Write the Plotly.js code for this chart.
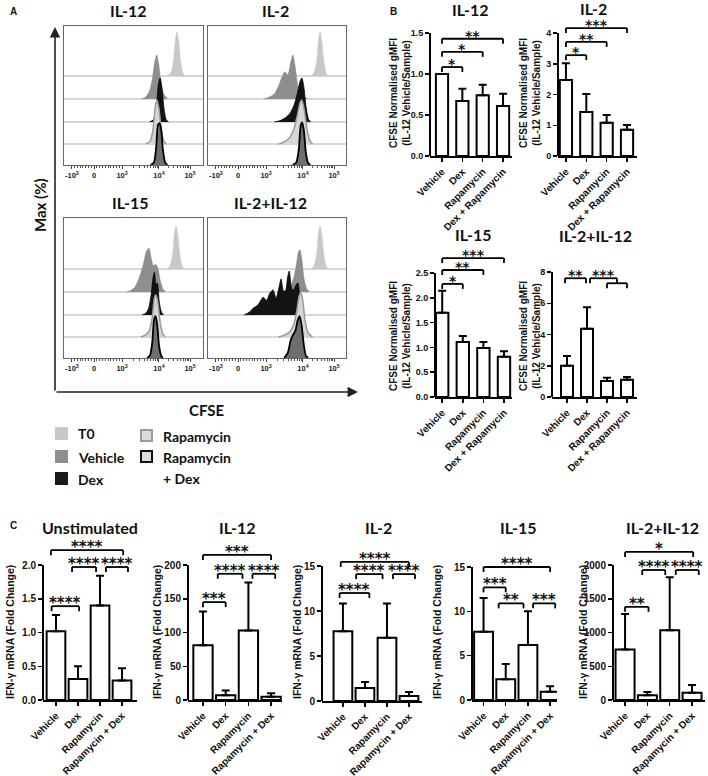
<!DOCTYPE html>
<html><head><meta charset="utf-8">
<script src="https://cdn.plot.ly/plotly-3.0.1.min.js"></script>
<style>body{margin:0;background:#fff}#chart{width:708px;height:776px}</style>
</head><body><div id="chart"></div>
<script>
// ================= DATA =================
// Panel A: CFSE offset histograms. Points are [CFSE display position (logicle decades), normalised count]
const cfseTickVals = [-0.79, 0, 1, 2.32, 3.43];
const cfseTickText = ['-10<sup>3</sup>', '0', '10<sup>3</sup>', '10<sup>4</sup>', '10<sup>5</sup>'];
const histPanels = ['IL-12', 'IL-2', 'IL-15', 'IL-2+IL-12'];
const histConditions = ['T0', 'Vehicle', 'Dex', 'Rapamycin', 'Rapamycin + Dex'];

const il12_T0 = [[2.62,0],[2.75,0.08],[2.84,0.35],[2.9,0.78],[2.96,1],[3.02,0.8],[3.09,0.35],[3.17,0.08],[3.25,0]];
const il12_Veh = [[1.7,0],[1.85,0.05],[1.98,0.18],[2.08,0.45],[2.17,0.85],[2.24,1],[2.31,0.8],[2.4,0.35],[2.5,0.1],[2.62,0]];
const il12_Dex = [[1.98,0],[2.12,0.05],[2.22,0.3],[2.3,0.85],[2.36,1],[2.42,0.8],[2.5,0.3],[2.58,0.05],[2.66,0]];
const il12_Rapa = [[1.85,0],[2.0,0.06],[2.1,0.3],[2.19,0.85],[2.25,1],[2.32,0.8],[2.4,0.35],[2.5,0.06],[2.58,0]];
const il12_RapaDex = [[2.02,0],[2.14,0.06],[2.22,0.4],[2.28,0.9],[2.33,0.95],[2.39,0.85],[2.46,0.35],[2.54,0.06],[2.62,0]];

const il2_T0 = [[2.6,0],[2.72,0.08],[2.81,0.35],[2.87,0.78],[2.93,1],[2.99,0.8],[3.06,0.35],[3.14,0.08],[3.22,0]];
const il2_Veh = [[0.9,0],[1.1,0.04],[1.3,0.12],[1.45,0.3],[1.57,0.5],[1.67,0.62],[1.78,0.55],[1.87,0.8],[1.96,1],[2.05,0.7],[2.14,0.3],[2.26,0.1],[2.4,0.03],[2.5,0]];
const il2_Dex = [[1.3,0],[1.5,0.03],[1.7,0.1],[1.86,0.2],[2.0,0.38],[2.12,0.65],[2.22,0.93],[2.28,1],[2.35,0.8],[2.43,0.35],[2.52,0.06],[2.6,0]];
const il2_Rapa = [[1.45,0],[1.65,0.05],[1.85,0.15],[2.0,0.35],[2.12,0.65],[2.22,0.95],[2.28,1],[2.36,0.8],[2.45,0.4],[2.55,0.1],[2.66,0]];
const il2_RapaDex = [[1.95,0],[2.08,0.06],[2.17,0.35],[2.24,0.9],[2.29,0.97],[2.35,0.8],[2.42,0.3],[2.5,0.05],[2.58,0]];

const il15_T0 = [[2.6,0],[2.72,0.08],[2.81,0.35],[2.87,0.78],[2.93,0.98],[2.99,0.8],[3.06,0.35],[3.14,0.08],[3.22,0]];
const il15_Veh = [[1.15,0],[1.3,0.03],[1.45,0.1],[1.6,0.3],[1.75,0.6],[1.87,0.92],[1.96,1],[2.05,0.75],[2.12,0.6],[2.2,0.63],[2.28,0.55],[2.37,0.25],[2.47,0.06],[2.56,0]];
const il15_Dex = [[1.72,0],[1.85,0.04],[1.95,0.15],[2.04,0.45],[2.11,0.85],[2.16,0.97],[2.21,0.7],[2.26,0.72],[2.33,0.3],[2.41,0.06],[2.48,0]];
const il15_Rapa = [[1.68,0],[1.85,0.05],[1.98,0.15],[2.08,0.45],[2.16,0.9],[2.21,0.96],[2.28,0.8],[2.36,0.35],[2.45,0.08],[2.55,0]];
const il15_RapaDex = [[1.9,0],[2.0,0.06],[2.08,0.35],[2.14,0.85],[2.19,0.95],[2.25,0.8],[2.32,0.3],[2.4,0.05],[2.46,0]];

const il2il12_T0 = [[2.6,0],[2.72,0.08],[2.81,0.35],[2.87,0.78],[2.93,0.98],[2.99,0.8],[3.06,0.35],[3.14,0.08],[3.22,0]];
const il2il12_Veh = [[1.7,0],[1.85,0.1],[1.98,0.3],[2.08,0.6],[2.15,0.9],[2.21,0.96],[2.28,0.75],[2.36,0.3],[2.45,0.08],[2.55,0]];
const il2il12_Dex = [[0.22,0],[0.4,0.06],[0.55,0.16],[0.7,0.22],[0.9,0.4],[1.02,0.33],[1.14,0.5],[1.25,0.57],[1.36,0.38],[1.47,0.65],[1.54,0.82],[1.62,0.55],[1.7,0.55],[1.77,0.85],[1.83,1],[1.9,0.65],[1.97,0.55],[2.07,0.68],[2.14,0.73],[2.2,0.45],[2.26,0.12],[2.32,0]];
const il2il12_Rapa = [[1.45,0],[1.65,0.04],[1.85,0.12],[2.0,0.3],[2.1,0.6],[2.19,0.95],[2.25,1],[2.32,0.8],[2.4,0.35],[2.52,0.08],[2.66,0]];
const il2il12_RapaDex = [[1.65,0],[1.78,0.12],[1.88,0.4],[1.96,0.52],[2.05,0.62],[2.13,0.85],[2.2,0.95],[2.27,0.75],[2.35,0.3],[2.42,0.06],[2.5,0]];

// Panel B: CFSE normalised gMFI (mean, upper SEM)
const catsB = ['Vehicle', 'Dex', 'Rapamycin', 'Dex + Rapamycin'];
const bIL12_mean = [1.00, 0.67, 0.74, 0.61];
const bIL12_err  = [0, 0.15, 0.13, 0.15];
const bIL2_mean  = [2.47, 1.43, 1.08, 0.85];
const bIL2_err   = [0.55, 0.59, 0.25, 0.16];
const bIL15_mean = [1.70, 1.11, 0.99, 0.81];
const bIL15_err  = [0.44, 0.12, 0.12, 0.11];
const bIL2IL12_mean = [2.00, 4.36, 1.03, 1.10];
const bIL2IL12_err  = [0.62, 1.39, 0.20, 0.18];
// significance brackets: [from category, to category, level, label]
const sigB_IL12 = [[0,1,1.085,'*'],[0,2,1.27,'*'],[0,3,1.43,'**']];
const sigB_IL2 = [[0,1,3.28,'*'],[0,2,3.71,'**'],[0,3,4.16,'***']];
const sigB_IL15 = [[0,1,2.28,'*'],[0,2,2.56,'**'],[0,3,2.8,'***']];
const sigB_IL2IL12 = [[-0.1,0.95,7.6,'**'],[1.15,2.5,7.6,'***'],[2,3,7.28,'']];

// Panel C: IFN-γ mRNA fold change (mean, upper error)
const catsC = ['Vehicle', 'Dex', 'Rapamycin', 'Rapamycin + Dex'];
const cUnstim_mean = [1.02, 0.31, 1.40, 0.29];
const cUnstim_err  = [0.24, 0.19, 0.44, 0.18];
const cIL12_mean = [81, 7, 103, 5];
const cIL12_err  = [50, 7, 71, 5];
const cIL2_mean = [7.76, 1.45, 7.02, 0.56];
const cIL2_err  = [3.08, 0.67, 3.82, 0.44];
const cIL15_mean = [7.7, 2.33, 6.19, 0.93];
const cIL15_err  = [3.8, 1.74, 3.81, 0.63];
const cIL2IL12_mean = [747, 69, 1032, 108];
const cIL2IL12_err  = [526, 49, 786, 113];
const sigC_Unstim = [[-0.2,1.05,1.39,'****'],[0.73,1.82,1.97,'****'],[2.27,3.27,1.97,'****'],[-0.23,3.05,2.22,'****']];
const sigC_IL12 = [[0,1,145,'***'],[0.65,1.74,187,'****'],[2.18,3.18,187,'****'],[0,3,215,'***']];
const sigC_IL2 = [[-0.15,1.2,12.0,'****'],[0.6,1.8,14.1,'****'],[2.27,3.27,14.1,'****'],[-0.1,3,15.45,'****']];
const sigC_IL15 = [[0,1,12.7,'***'],[0.68,1.8,10.9,'**'],[2.23,3.23,10.9,'***'],[0,3,15.0,'****']];
const sigC_IL2IL12 = [[0,1.05,1380,'**'],[0.77,1.8,1926,'****'],[2.27,3.3,1926,'****'],[0,3.05,2193,'*']];

// ================= LAYOUT / DRAWING =================
const W = 708, H = 776;
const fx = p => p / W;
const fy = p => 1 - p / H;
const AXFONT = 'Liberation Sans, Arial, sans-serif';
const TFONT = 'Lato, "Open Sans", sans-serif';
const SFONT = '"DejaVu Sans", sans-serif';
const bf = (size, family, color) => ({size: size, family: family || AXFONT, weight: 'bold', color: color || '#111'});
const axKey = (k, c) => (k === 1 ? c + 'axis' : c + 'axis' + k);
const axId = (k, c) => (k === 1 ? c : c + k);

const layout = {
  width: W, height: H, margin: {l: 0, r: 0, t: 0, b: 0},
  paper_bgcolor: '#fff', plot_bgcolor: 'rgba(0,0,0,0)', showlegend: false,
  font: {family: AXFONT, color: '#111'},
  shapes: [], annotations: []
};
const traces = [];

function txt(x, y, text, font, extra) {
  layout.annotations.push(Object.assign({x: fx(x), y: fy(y), xref: 'paper', yref: 'paper', text: text,
    showarrow: false, font: font, xanchor: 'center', yanchor: 'middle'}, extra || {}));
}

// ---- Panel A ----
const histData = [
  [il12_T0, il12_Veh, il12_Dex, il12_Rapa, il12_RapaDex],
  [il2_T0, il2_Veh, il2_Dex, il2_Rapa, il2_RapaDex],
  [il15_T0, il15_Veh, il15_Dex, il15_Rapa, il15_RapaDex],
  [il2il12_T0, il2il12_Veh, il2il12_Dex, il2il12_Rapa, il2il12_RapaDex]
];
const histBoxes = [[64,203,26,165,94],[208,346,26,165,238],[64,203,218,358,94],[208,346,218,358,238]];
const histTitlePos = [[128,11],[275,11],[130,203],[270,203]];
const unitPx = 28, rowBase = [89, 66, 43, 21, 0], peakPx = 44;
const histStyle = [
  {fill: '#c8c8c8', line: '#c3c3c3', w: 0.5},
  {fill: '#8e8e8e', line: '#888888', w: 0.5},
  {fill: '#131313', line: '#000000', w: 0.8},
  {fill: '#d6d6d6', line: '#9a9a9a', w: 1.5},
  {fill: '#6e6e6e', line: '#000000', w: 1.8}
];
const minorCfse = [];
for (let i = 1; i < 8; i++) minorCfse.push(-0.79 + i * 0.79 / 8);
for (let i = 1; i < 10; i++) minorCfse.push(i / 10);
for (let k = 2; k < 10; k++) minorCfse.push(1 + 1.32 * Math.log10(k));
for (let k = 2; k < 10; k++) minorCfse.push(2.32 + 1.11 * Math.log10(k));

histPanels.forEach((name, i) => {
  const k = i + 1, b = histBoxes[i];
  const xr = [(b[0] - b[4]) / unitPx, (b[1] - b[4]) / unitPx];
  layout[axKey(k, 'x')] = {
    domain: [fx(b[0]), fx(b[1])], range: xr, anchor: axId(k, 'y'),
    showline: true, mirror: true, linecolor: '#666', linewidth: 1,
    ticks: 'outside', ticklen: 3, tickwidth: 1, tickcolor: '#444',
    tickmode: 'array', tickvals: cfseTickVals, ticktext: cfseTickText,
    tickfont: bf(7.5, AXFONT, '#222'), showgrid: false, zeroline: false,
    minor: {tickmode: 'array', tickvals: minorCfse, ticks: 'outside', ticklen: 2, tickcolor: '#555', showgrid: false}
  };
  layout[axKey(k, 'y')] = {
    domain: [fy(b[3]), fy(b[2])], range: [0, b[3] - b[2]], anchor: axId(k, 'x'),
    showline: true, mirror: true, linecolor: '#666', linewidth: 1,
    showticklabels: false, ticks: '', showgrid: false, zeroline: false
  };
  for (let r = 0; r < 4; r++) {
    layout.shapes.push({type: 'line', xref: axId(k, 'x') + ' domain', x0: 0, x1: 1,
      yref: axId(k, 'y'), y0: rowBase[r], y1: rowBase[r], layer: 'below',
      line: {color: '#b0b0b0', width: 1}});
  }
  histData[i].forEach((pts, c) => {
    const st = histStyle[c];
    traces.push({
      type: 'scatter', mode: 'lines', xaxis: axId(k, 'x'), yaxis: axId(k, 'y'),
      x: pts.map(p => p[0]), y: pts.map(p => rowBase[c] + p[1] * peakPx),
      line: {shape: 'spline', smoothing: 0.7, color: st.line, width: st.w},
      fill: 'toself', fillcolor: st.fill, hoverinfo: 'skip', name: histConditions[c]
    });
  });
  txt(histTitlePos[i][0], histTitlePos[i][1], name, bf(16, TFONT));
});

// big axes arrows of panel A
layout.annotations.push({x: fx(55), y: fy(27), xref: 'paper', yref: 'paper', text: '', showarrow: true,
  ax: 0, ay: 365, axref: 'pixel', ayref: 'pixel', arrowhead: 2, arrowsize: 1.3, arrowwidth: 1.6, arrowcolor: '#222'});
layout.annotations.push({x: fx(358), y: fy(392), xref: 'paper', yref: 'paper', text: '', showarrow: true,
  ax: -303, ay: 0, axref: 'pixel', ayref: 'pixel', arrowhead: 2, arrowsize: 1.3, arrowwidth: 1.6, arrowcolor: '#222'});
txt(40, 205, 'Max (%)', bf(15, TFONT), {textangle: -90});
txt(207, 410, 'CFSE', bf(15, TFONT));

// legend of panel A
const legendItems = [
  {x: 55, y: 427, fill: '#c8c8c8', line: '#c8c8c8', label: 'T0', ty: 433},
  {x: 55, y: 450, fill: '#8e8e8e', line: '#8e8e8e', label: 'Vehicle', ty: 457},
  {x: 55, y: 472, fill: '#1a1a1a', line: '#1a1a1a', label: 'Dex', ty: 479},
  {x: 140, y: 429, fill: '#dcdcdc', line: '#9a9a9a', label: 'Rapamycin', ty: 436},
  {x: 140, y: 450, fill: '#dcdcdc', line: '#111111', label: 'Rapamycin', ty: 457}
];
legendItems.forEach(it => {
  layout.shapes.push({type: 'rect', xref: 'paper', yref: 'paper', x0: fx(it.x + 1), x1: fx(it.x + 12),
    y0: fy(it.y + 12), y1: fy(it.y + 1), fillcolor: it.fill, line: {color: it.line, width: 2}});
  txt(it.x + 21, it.ty, it.label, bf(14, TFONT), {xanchor: 'left'});
});
txt(161, 478, '+ Dex', bf(14, TFONT), {xanchor: 'left'});

// panel letters
txt(13, 12, 'A', bf(10));
txt(393, 12, 'B', bf(10));
txt(13, 525, 'C', bf(10));

// ---- Bar charts (panels B and C) ----
function barChart(k, g, cats, mean, err, sig, title, tpos, ytitle, ypos, tickvals, tickformat, barW, yTickSize, starSize, yTitleSize) {
  const rangeTop = g.topTick * (g.y0 - g.domTop) / (g.y0 - g.yT);
  layout[axKey(k, 'x')] = {
    domain: [fx(g.xL), fx(g.xR)], range: [g.xs, g.xe], anchor: axId(k, 'y'),
    showline: true, linecolor: '#000', linewidth: 2, ticks: 'outside', ticklen: 4, tickwidth: 1.5, tickcolor: '#000',
    tickmode: 'array', tickvals: [0, 1, 2, 3], ticktext: cats, tickangle: -45,
    tickfont: bf(10), showgrid: false, zeroline: false
  };
  layout[axKey(k, 'y')] = {
    domain: [fy(g.y0), fy(g.domTop)], range: [0, rangeTop], anchor: axId(k, 'x'),
    showline: false, ticks: 'outside', ticklen: 4, tickwidth: 1.5, tickcolor: '#000',
    tickmode: 'array', tickvals: tickvals, tickformat: tickformat,
    tickfont: bf(yTickSize), showgrid: false, zeroline: false
  };
  layout.shapes.push({type: 'line', xref: 'paper', x0: fx(g.xL), x1: fx(g.xL), yref: axId(k, 'y'),
    y0: 0, y1: g.topTick, line: {color: '#000', width: 2}});
  traces.push({
    type: 'bar', x: [0, 1, 2, 3], y: mean, width: barW, xaxis: axId(k, 'x'), yaxis: axId(k, 'y'),
    marker: {color: '#fff', line: {color: '#000', width: 2}},
    error_y: {type: 'data', symmetric: false, array: err, arrayminus: err.map(() => 0),
      color: '#000', thickness: 2, width: 4},
    hoverinfo: 'skip'
  });
  sig.forEach(s => {
    const xa = axId(k, 'x'), ya = axId(k, 'y');
    layout.shapes.push({type: 'line', xref: xa, yref: ya, x0: s[0], x1: s[1], y0: s[2], y1: s[2],
      line: {color: '#000', width: 1.8}});
    [s[0], s[1]].forEach(xv => {
      layout.shapes.push({type: 'line', xref: xa, yref: ya, x0: xv, x1: xv, ysizemode: 'pixel', yanchor: s[2],
        y0: -5, y1: 0, line: {color: '#000', width: 1.8}});
    });
    if (s[3]) {
      layout.annotations.push({x: (s[0] + s[1]) / 2, y: s[2], xref: xa, yref: ya, text: s[3], showarrow: false,
        xanchor: 'center', yanchor: 'middle', yshift: 3, font: bf(starSize, SFONT, '#111')});
    }
  });
  txt(tpos[0], tpos[1], title, bf(16, TFONT));
  txt(ypos[0], ypos[1], ytitle, bf(yTitleSize), {textangle: -90});
}

const yTitleB = 'CFSE Normalised gMFI<br>(IL-12 Vehicle/Sample)';
const yTitleC = 'IFN-γ mRNA (Fold Change)';

barChart(5, {xL: 430, xR: 512, y0: 156, yT: 33, topTick: 1.5, domTop: 20, xs: -0.59, xe: 3.44},
  catsB, bIL12_mean, bIL12_err, sigB_IL12, 'IL-12', [470, 10], yTitleB, [400, 93], [0, 0.5, 1, 1.5], '.1f', 0.6, 9, 14, 10);
barChart(6, {xL: 558, xR: 637, y0: 156, yT: 33, topTick: 4, domTop: 12, xs: -0.39, xe: 3.49},
  catsB, bIL2_mean, bIL2_err, sigB_IL2, 'IL-2', [593, 9], yTitleB, [530, 93], [0, 1, 2, 3, 4], '', 0.6, 9, 14, 10);
barChart(7, {xL: 435, xR: 512, y0: 397, yT: 273, topTick: 2.5, domTop: 245, xs: -0.35, xe: 3.39},
  catsB, bIL15_mean, bIL15_err, sigB_IL15, 'IL-15', [473, 234], yTitleB, [400, 336], [0, 0.5, 1, 1.5, 2, 2.5], '.1f', 0.6, 9, 14, 10);
barChart(8, {xL: 552, xR: 637, y0: 397, yT: 272, topTick: 8, domTop: 262, xs: -0.75, xe: 3.5},
  catsB, bIL2IL12_mean, bIL2IL12_err, sigB_IL2IL12, 'IL-2+IL-12', [595, 235], yTitleB, [530, 336], [0, 2, 4, 6, 8], '', 0.6, 9, 14, 10);

barChart(9, {xL: 43, xR: 137, y0: 700, yT: 565, topTick: 2, domTop: 536, xs: -0.59, xe: 3.68},
  catsC, cUnstim_mean, cUnstim_err, sigC_Unstim, 'Unstimulated', [90, 527], yTitleC, [10, 632], [0, 0.5, 1, 1.5, 2], '.1f', 0.85, 10, 15, 10.5);
barChart(10, {xL: 188, xR: 282, y0: 700, yT: 565, topTick: 200, domTop: 540, xs: -0.66, xe: 3.48},
  catsC, cIL12_mean, cIL12_err, sigC_IL12, 'IL-12', [237, 527], yTitleC, [157, 632], [0, 50, 100, 150, 200], '', 0.85, 10, 15, 10.5);
barChart(11, {xL: 322, xR: 422, y0: 701, yT: 566, topTick: 15, domTop: 546, xs: -0.95, xe: 3.59},
  catsC, cIL2_mean, cIL2_err, sigC_IL2, 'IL-2', [378, 527], yTitleC, [297, 632], [0, 5, 10, 15], '', 0.85, 10, 15, 10.5);
barChart(12, {xL: 472, xR: 557, y0: 700, yT: 567, topTick: 15, domTop: 552, xs: -0.52, xe: 3.31},
  catsC, cIL15_mean, cIL15_err, sigC_IL15, 'IL-15', [518, 527], yTitleC, [437, 632], [0, 5, 10, 15], '', 0.85, 10, 15, 10.5);
barChart(13, {xL: 613, xR: 705, y0: 700, yT: 565, topTick: 2000, domTop: 540, xs: -0.54, xe: 3.58},
  catsC, cIL2IL12_mean, cIL2IL12_err, sigC_IL2IL12, 'IL-2+IL-12', [662, 527], yTitleC, [583, 632], [0, 500, 1000, 1500, 2000], '', 0.85, 10, 15, 10.5);

Plotly.newPlot('chart', traces, layout, {staticPlot: true, displayModeBar: false});
</script>
</body></html>
